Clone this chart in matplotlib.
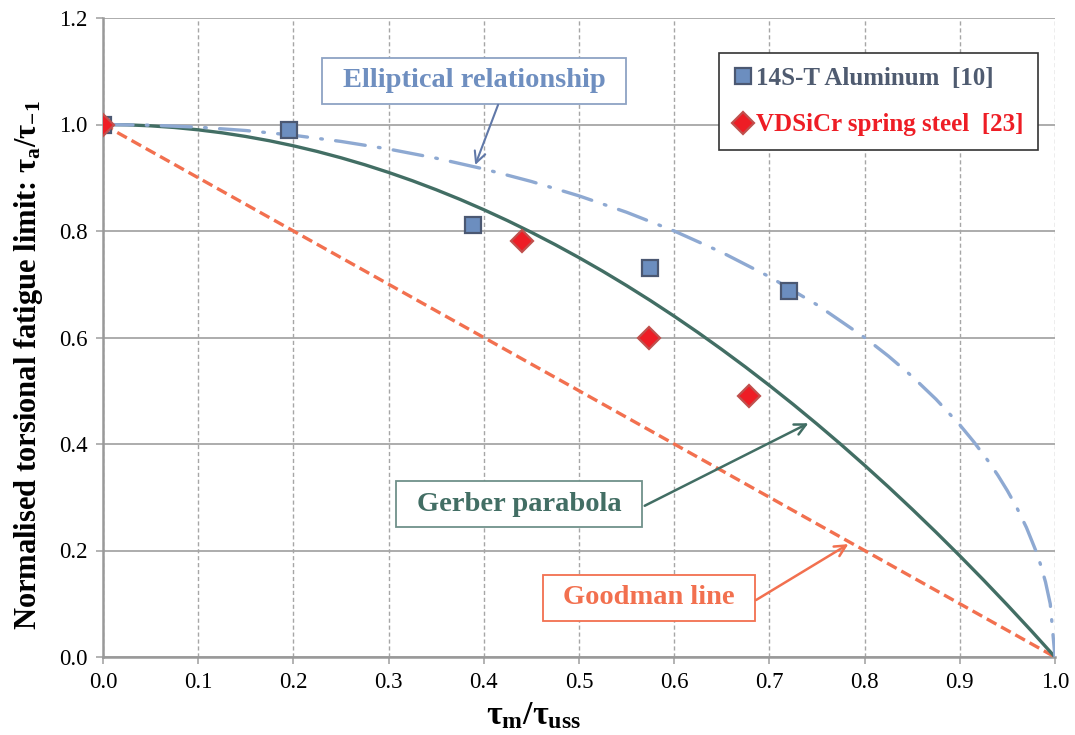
import matplotlib.pyplot as plt

plt.rcParams['font.family'] = ['Liberation Serif', 'DejaVu Serif']
plt.rcParams['mathtext.fontset'] = 'custom'
plt.rcParams['mathtext.rm'] = 'Liberation Serif'
plt.rcParams['mathtext.it'] = 'Liberation Serif:italic'
plt.rcParams['mathtext.bf'] = 'Liberation Serif:bold'

# data
alu_x = [0.0, 0.195, 0.389, 0.575, 0.721]
alu_y = [1.0, 0.989, 0.812, 0.731, 0.688]

steel_x = [0.0, 0.440, 0.574, 0.679]
steel_y = [1.0, 0.781, 0.599, 0.490]

goodman_x = [0.0, 1.0]
goodman_y = [1.0, 0.0]

gerber_x = [0.0, 0.025, 0.05, 0.075, 0.1, 0.125, 0.15, 0.175, 0.2, 0.225, 0.25,
            0.275, 0.3, 0.325, 0.35, 0.375, 0.4, 0.425, 0.45, 0.475, 0.5,
            0.525, 0.55, 0.575, 0.6, 0.625, 0.65, 0.675, 0.7, 0.725, 0.75,
            0.775, 0.8, 0.825, 0.85, 0.875, 0.9, 0.925, 0.95, 0.975, 1.0]
gerber_y = [1.0, 0.9994, 0.9975, 0.9944, 0.99, 0.9844, 0.9775, 0.9694, 0.96, 0.9494, 0.9375,
            0.9244, 0.91, 0.8944, 0.8775, 0.8594, 0.84, 0.8194, 0.7975, 0.7744, 0.75,
            0.7244, 0.6975, 0.6694, 0.64, 0.6094, 0.5775, 0.5444, 0.51, 0.4744, 0.4375,
            0.3994, 0.36, 0.3194, 0.2775, 0.2344, 0.19, 0.1444, 0.0975, 0.0494, 0.0]

ellip_x = [0.0, 0.05, 0.1, 0.15, 0.2, 0.25, 0.3, 0.35, 0.4, 0.45, 0.5, 0.55,
           0.6, 0.65, 0.7, 0.75, 0.8, 0.825, 0.85, 0.875, 0.9, 0.915, 0.93, 0.94, 0.95,
           0.96, 0.97, 0.98, 0.985, 0.99, 0.995, 1.0]
ellip_y = [1.0, 0.9987, 0.995, 0.9887, 0.9798, 0.9682, 0.9539, 0.9367, 0.9165, 0.893, 0.866, 0.8352,
           0.8, 0.7599, 0.7141, 0.6614, 0.6, 0.5651, 0.5268, 0.4841, 0.4359, 0.4034, 0.3676, 0.3412, 0.3122,
           0.28, 0.2431, 0.199, 0.1726, 0.141, 0.0999, 0.0]

xticks = [0.0, 0.1, 0.2, 0.3, 0.4, 0.5, 0.6, 0.7, 0.8, 0.9, 1.0]
yticks = [0.0, 0.2, 0.4, 0.6, 0.8, 1.0, 1.2]

green = '#426E64'
orange = '#F2704F'
lblue = '#8EA9D2'
grid_c = '#A6A6A6'

fig = plt.figure(figsize=(10.75, 7.35), dpi=100)
ax = fig.add_axes([103 / 1075, 78 / 735, 952 / 1075, 639 / 735])

ax.set_xlim(0, 1.0)
ax.set_ylim(0, 1.2)
ax.set_xticks(xticks)
ax.set_yticks(yticks)
ax.set_xticklabels(['%.1f' % v for v in xticks], fontsize=16.5)
ax.set_yticklabels(['%.1f' % v for v in yticks], fontsize=16.5)
ax.tick_params(direction='out', length=5, width=1.2, color=grid_c, pad=6)

ax.yaxis.grid(True, color=grid_c, linewidth=1.3, linestyle='-')
ax.xaxis.grid(True, color=grid_c, linewidth=1.0, linestyle=(0, (3, 2)))
ax.set_axisbelow(True)
for s in ['top', 'right']:
    ax.spines[s].set_visible(False)
for s in ['left', 'bottom']:
    ax.spines[s].set_color('#999999')
    ax.spines[s].set_linewidth(1.8)

ax.plot(goodman_x, goodman_y, color=orange, lw=2.4, linestyle=(0, (3.3, 1.6)), zorder=3)
ax.plot(gerber_x, gerber_y, color=green, lw=2.4, zorder=3)
ax.plot(ellip_x, ellip_y, color=lblue, lw=2.4, linestyle=(0, (9, 4, 0.5, 4)),
        dash_capstyle='round', zorder=3)

ax.plot(alu_x, alu_y, linestyle='none', marker='s', markersize=11.5,
        markerfacecolor='#6C8EBF', markeredgecolor='#4B5872', markeredgewidth=1.6,
        label='14S-T Aluminum  [10]', zorder=4)
ax.plot(steel_x, steel_y, linestyle='none', marker='D', markersize=11,
        markerfacecolor='#EE1D25', markeredgecolor='#C0504D', markeredgewidth=1.6,
        label='VDSiCr spring steel  [23]', zorder=5)

leg = ax.legend(loc='upper left', bbox_to_anchor=(719 / 1075, 1 - 53 / 735),
                bbox_transform=fig.transFigure, fancybox=False, framealpha=1,
                edgecolor='#333333', borderpad=0.55, labelspacing=0.95,
                handlelength=0.8, handletextpad=0.15, borderaxespad=0,
                prop={'weight': 'bold', 'size': 18})
leg.get_frame().set_linewidth(1.2)
leg.get_texts()[0].set_color('#4F5B70')
leg.get_texts()[1].set_color('#EE1D25')

ax.set_xlabel(r'$\mathbf{τ_m/τ_{uss}}$', fontsize=24.5)
ax.xaxis.set_label_coords(0.452, -0.068)
ax.set_ylabel(r'Normalised torsional fatigue limit: $\mathbf{τ_a/τ_{-1}}$',
              fontsize=22, fontweight='bold')
ax.yaxis.set_label_coords(-0.061, 0.457)

# label boxes
box_kw = dict(fontsize=20.5, fontweight='bold', ha='center', va='center', zorder=6)
ax.text(0.39, 1.082, 'Elliptical relationship', color='#6F8FC0',
        bbox=dict(boxstyle='square,pad=0.72', mutation_aspect=0.5,
                  fc='white', ec='#8EA3C4', lw=1.3), **box_kw)
ax.text(0.437, 0.287, 'Gerber parabola', color=green,
        bbox=dict(boxstyle='square,pad=0.72', mutation_aspect=0.5,
                  fc='white', ec='#6F918A', lw=1.3), **box_kw)
ax.text(0.5735, 0.111, 'Goodman line', color=orange,
        bbox=dict(boxstyle='square,pad=0.72', mutation_aspect=0.5,
                  fc='white', ec=orange, lw=1.3), **box_kw)

# arrows
ax.annotate('', xy=(0.391, 0.924), xytext=(0.415, 1.037),
            arrowprops=dict(arrowstyle='->', color='#6078A8', lw=1.5,
                            mutation_scale=20, shrinkA=0, shrinkB=0), zorder=6)
ax.annotate('', xy=(0.741, 0.439), xytext=(0.569, 0.284),
            arrowprops=dict(arrowstyle='->', color=green, lw=1.8,
                            mutation_scale=20, shrinkA=0, shrinkB=0), zorder=6)
ax.annotate('', xy=(0.783, 0.212), xytext=(0.686, 0.107),
            arrowprops=dict(arrowstyle='->', color=orange, lw=1.8,
                            mutation_scale=20, shrinkA=0, shrinkB=0), zorder=6)

plt.savefig('out.png', dpi=100)
